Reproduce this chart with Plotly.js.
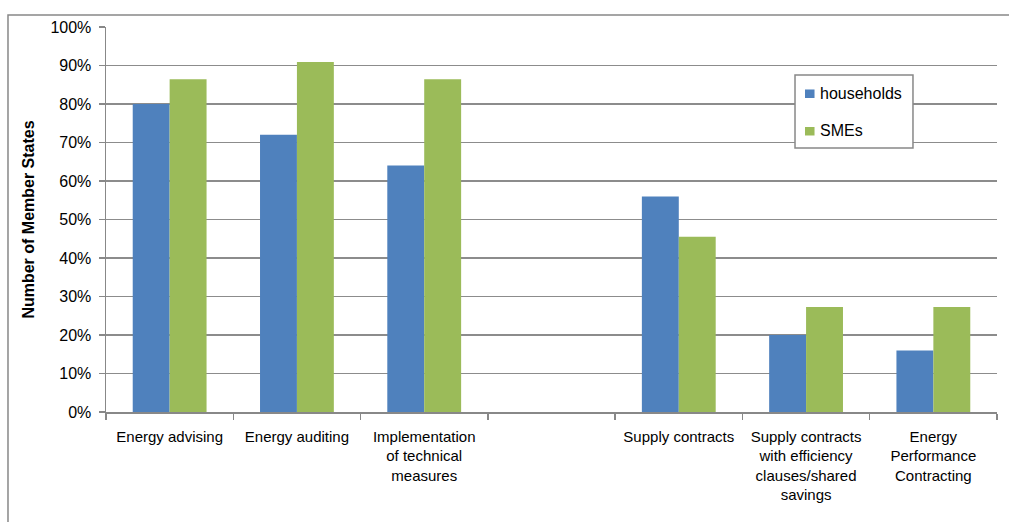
<!DOCTYPE html>
<html>
<head>
<meta charset="utf-8">
<script src="https://cdn.plot.ly/plotly-3.0.1.min.js"></script>
<style>html,body{margin:0;padding:0;background:#fff;overflow:hidden}#chart{width:1009px;height:522px}</style>
</head>
<body>
<div id="chart"></div>
<script>
const categories = ["Energy advising", "Energy auditing", "Implementation<br>of technical<br>measures", " ", "Supply contracts", "Supply contracts<br>with efficiency<br>clauses/shared<br>savings", "Energy<br>Performance<br>Contracting"];
const seriesNames = ["households", "SMEs"];
const seriesColors = ["#4F81BD", "#9BBB59"];
const households = [0.80, 0.72, 0.64, null, 0.56, 0.20, 0.16];
const smes = [0.864, 0.909, 0.864, null, 0.455, 0.273, 0.273];
const yTickVals = [0, 0.1, 0.2, 0.3, 0.4, 0.5, 0.6, 0.7, 0.8, 0.9, 1.0];
const yTickText = ["0%", "10%", "20%", "30%", "40%", "50%", "60%", "70%", "80%", "90%", "100%"];

const font = "Liberation Sans, Arial, sans-serif";
const data = [
  {type: "bar", name: seriesNames[0], x: categories, y: households, marker: {color: seriesColors[0]}},
  {type: "bar", name: seriesNames[1], x: categories, y: smes, marker: {color: seriesColors[1]}}
];

// custom legend (box, swatches, labels) in paper coordinates
const legendShapes = [
  {type: "rect", xref: "paper", yref: "paper", x0: 0.7733, x1: 0.9057, y0: 0.6857, y1: 0.8753,
   line: {color: "#888", width: 1.5}, fillcolor: "#fff", layer: "above"},
  {type: "rect", xref: "paper", yref: "paper", x0: 0.7845, x1: 0.7952, y0: 0.8156, y1: 0.8377,
   line: {width: 0}, fillcolor: seriesColors[0], layer: "above"},
  {type: "rect", xref: "paper", yref: "paper", x0: 0.7845, x1: 0.7952, y0: 0.7182, y1: 0.7403,
   line: {width: 0}, fillcolor: seriesColors[1], layer: "above"}
];
const legendAnn = [
  {xref: "paper", yref: "paper", x: 0.7991, y: 0.826, xanchor: "left", yanchor: "middle", showarrow: false,
   text: seriesNames[0], font: {family: font, size: 16, color: "#000"}},
  {xref: "paper", yref: "paper", x: 0.7991, y: 0.730, xanchor: "left", yanchor: "middle", showarrow: false,
   text: seriesNames[1], font: {family: font, size: 16, color: "#000"}}
];

const layout = {
  width: 1009, height: 522,
  margin: {l: 106, r: 12, t: 27, b: 110},
  paper_bgcolor: "#fff", plot_bgcolor: "#fff",
  font: {family: font, size: 14, color: "#000"},
  barmode: "group", bargap: 0.42, bargroupgap: 0,
  showlegend: false,
  xaxis: {type: "category", categoryorder: "array", categoryarray: categories,
          tickson: "boundaries", ticks: "outside", ticklen: 6, tickcolor: "#888", tickwidth: 1.5,
          showline: true, linecolor: "#888", linewidth: 1.5, showgrid: false,
          tickangle: 0, ticklabelstandoff: 10,
          tickfont: {family: font, size: 15}, automargin: false},
  yaxis: {range: [0, 1], tickvals: yTickVals, ticktext: yTickText, ticks: "outside", ticklen: 6,
          tickcolor: "#888", tickwidth: 1.5, showline: true, linecolor: "#888", linewidth: 1.5,
          showgrid: true, gridcolor: "#8c8c8c", gridwidth: 1.5, zeroline: false,
          ticklabelstandoff: 4,
          tickfont: {family: font, size: 16}, automargin: false,
          title: {text: "<b>Number of Member States</b>", font: {family: font, size: 16}, standoff: 12}},
  shapes: [
    {type: "rect", xref: "paper", yref: "paper", x0: -0.11, x1: 1.2, y0: -0.6, y1: 1.031,
     line: {color: "#888", width: 1.5}, fillcolor: "rgba(0,0,0,0)", layer: "below"}
  ].concat(legendShapes),
  annotations: legendAnn
};
Plotly.newPlot("chart", data, layout, {displayModeBar: false, staticPlot: true});
</script>
</body>
</html>
